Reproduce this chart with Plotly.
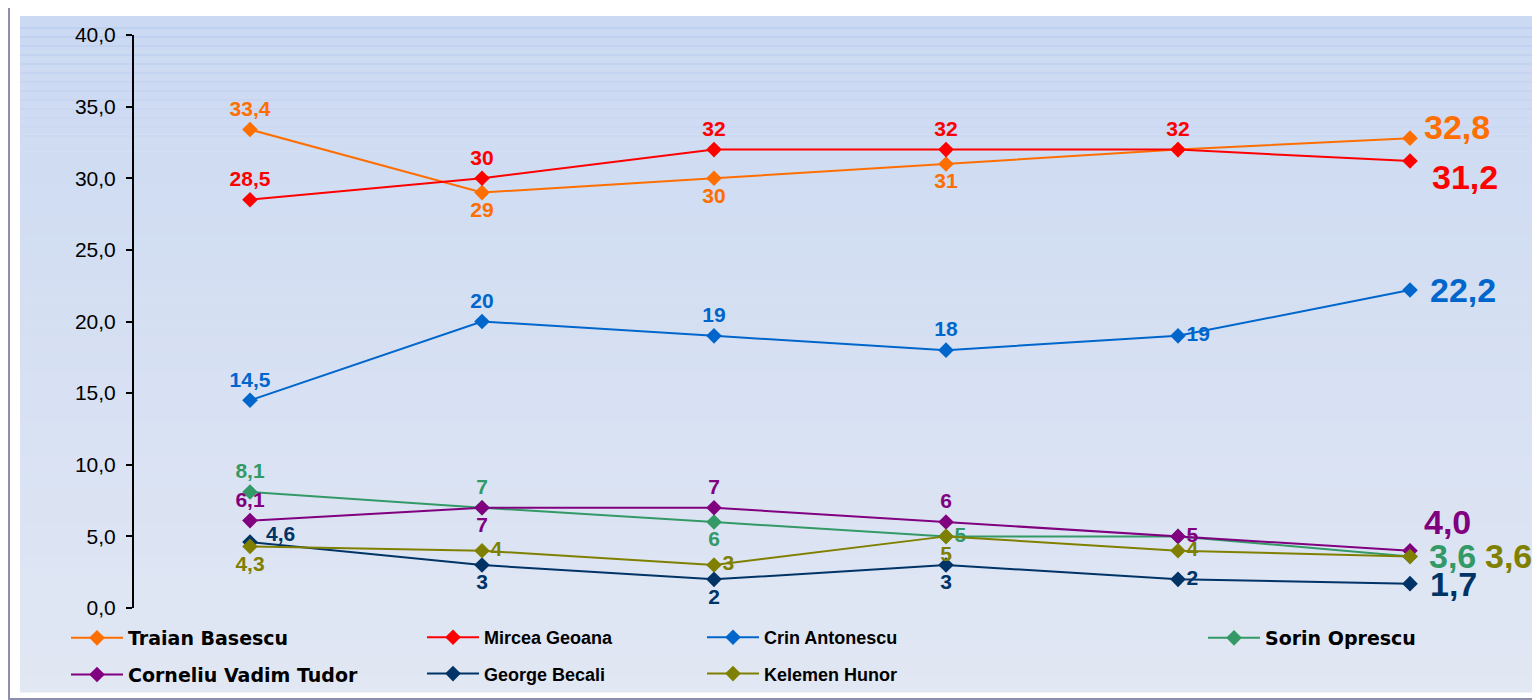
import plotly.graph_objects as go

polls = ["Sondaj 1", "Sondaj 2", "Sondaj 3", "Sondaj 4", "Sondaj 5", "Sondaj 6"]
names = ["Traian Basescu", "Mircea Geoana", "Crin Antonescu", "Sorin Oprescu",
         "Corneliu Vadim Tudor", "George Becali", "Kelemen Hunor"]
traian = [33.4, 29, 30, 31, 32, 32.8]
mircea = [28.5, 30, 32, 32, 32, 31.2]
crin = [14.5, 20, 19, 18, 19, 22.2]
sorin = [8.1, 7, 6, 5, 5, 3.6]
vadim = [6.1, 7, 7, 6, 5, 4.0]
becali = [4.6, 3, 2, 3, 2, 1.7]
kelemen = [4.3, 4, 3, 5, 4, 3.6]
y_ticks = [0, 5, 10, 15, 20, 25, 30, 35, 40]

series = [traian, mircea, crin, sorin, vadim, becali, kelemen]
colors = ["#FF6E00", "#FF0000", "#0066CC", "#339966", "#800080", "#003366", "#808000"]

TC, BC, MR, TR = "top center", "bottom center", "middle right", "top right"
positions = [
    [TC, BC, BC, BC, MR],
    [TC, TC, TC, TC, TC],
    [TC, TC, TC, TC, MR],
    [TC, TC, BC, MR, MR],
    [TC, BC, TC, TC, MR],
    [MR, BC, BC, BC, MR],
    [BC, MR, MR, BC, MR],
]
hidden = {(0, 4), (3, 4), (5, 0)}
legend_of = ["legend", "legend2", "legend3", "legend4", "legend", "legend2", "legend3"]
# big end label offsets (xshift, yshift)
end_shift = [(12, 11), (20, -16), (18, 0), (17, 0), (12, 29), (18, 0), (73, 0)]


def fmt(v, force=False):
    if not force and float(v).is_integer():
        return str(int(v))
    return f"{v:.1f}".replace(".", ",")


FONT = "Liberation Sans, Arial, sans-serif"
WIDE = "DejaVu Sans, Liberation Sans, sans-serif"
fig = go.Figure()

OFF = 8  # page offset of the figure inside the browser window
W, H = 1540, 700
PL, PR, PT, PB = 134 - OFF, 1526 - OFF, 35 - OFF, 608 - OFF


def px(x):
    return (x - OFF - PL) / (PR - PL)


def py(y):
    return (PB - (y - OFF)) / (PB - PT)


shapes = []
top, bot = 16, 692
n = 40
c0, c1 = (203, 217, 242), (225, 231, 243)
for i in range(n):
    y0 = top + (bot - top) * i / n
    y1 = top + (bot - top) * (i + 1) / n
    t = i / (n - 1)
    col = tuple(round(c0[k] + (c1[k] - c0[k]) * t) for k in range(3))
    shapes.append(dict(type="rect", xref="paper", yref="paper", layer="below",
                       x0=px(20), x1=px(1560), y0=py(y1 + 0.5), y1=py(y0),
                       fillcolor="rgb(%d,%d,%d)" % col, line=dict(width=0)))
for i, yy in enumerate(range(28, 140, 9)):
    op = max(0.15, 0.7 - i * 0.05)
    shapes.append(dict(type="line", xref="paper", yref="paper", layer="below",
                       x0=px(20), x1=px(1560), y0=py(yy), y1=py(yy),
                       line=dict(color="rgba(170,195,235,%.2f)" % op, width=1)))
shapes.append(dict(type="rect", xref="paper", yref="paper", layer="below",
                   x0=px(9), x1=px(1580), y0=py(699), y1=py(5),
                   fillcolor="rgba(0,0,0,0)", line=dict(color="#8E8EAE", width=2)))

annotations = []
for i, (nm, vals, col) in enumerate(zip(names, series, colors)):
    texts = []
    for j, v in enumerate(vals[:-1]):
        texts.append("" if (i, j) in hidden else fmt(v))
    texts.append("")
    fig.add_trace(go.Scatter(
        x=polls, y=vals, name=nm, mode="lines+markers+text",
        line=dict(color=col, width=2),
        marker=dict(symbol="diamond", size=12, color=col),
        text=texts, textposition=positions[i] + [MR],
        textfont=dict(family=FONT, size=21, color=col, weight="bold"),
        legend=legend_of[i], legendgroup=nm, cliponaxis=False,
        hoverinfo="skip",
    ))
    xs, ys = end_shift[i]
    annotations.append(dict(
        x=polls[-1], y=vals[-1], xref="x", yref="y", text="<b>%s</b>" % fmt(vals[-1], True),
        showarrow=False, xanchor="left", yanchor="middle", xshift=xs, yshift=ys,
        font=dict(family=FONT, size=34, color=col),
    ))

# first Becali label sits above-right of its point
annotations.append(dict(
    x=polls[0], y=becali[0], xref="x", yref="y", text="<b>%s</b>" % fmt(becali[0]),
    showarrow=False, xanchor="left", yanchor="middle", xshift=14, yshift=9,
    font=dict(family=FONT, size=21, color=colors[5]),
))


def leg(x, y, fam, size, gap):
    return dict(x=x / W, y=1 - y / H, orientation="v", xref="container", yref="container",
                yanchor="top", xanchor="left", bgcolor="rgba(0,0,0,0)",
                font=dict(family=fam, size=size, color="#000000", weight="bold"),
                tracegroupgap=gap, itemwidth=52)


fig.update_layout(
    width=W, height=H,
    margin=dict(l=PL, r=W - PR, t=PT, b=H - PB, autoexpand=False),
    paper_bgcolor="white", plot_bgcolor="rgba(0,0,0,0)",
    separators=",.",
    shapes=shapes, annotations=annotations,
    showlegend=True,
    legend=leg(58, 611, WIDE, 19, 9),
    legend2=leg(414, 611, FONT, 18, 10),
    legend3=leg(694, 611, FONT, 18, 10),
    legend4=leg(1195, 611, WIDE, 19, 9),
    xaxis=dict(type="category", range=[-0.5, 5.5], visible=False),
    yaxis=dict(range=[0, 40], tickvals=y_ticks, tickformat=".1f",
               showline=True, linecolor="black", linewidth=2,
               ticks="outside", ticklen=6, tickwidth=2, tickcolor="black",
               ticklabelstandoff=6,
               showgrid=False, zeroline=False,
               tickfont=dict(family=FONT, size=21, color="black")),
)
fig.write_html("out.html")
